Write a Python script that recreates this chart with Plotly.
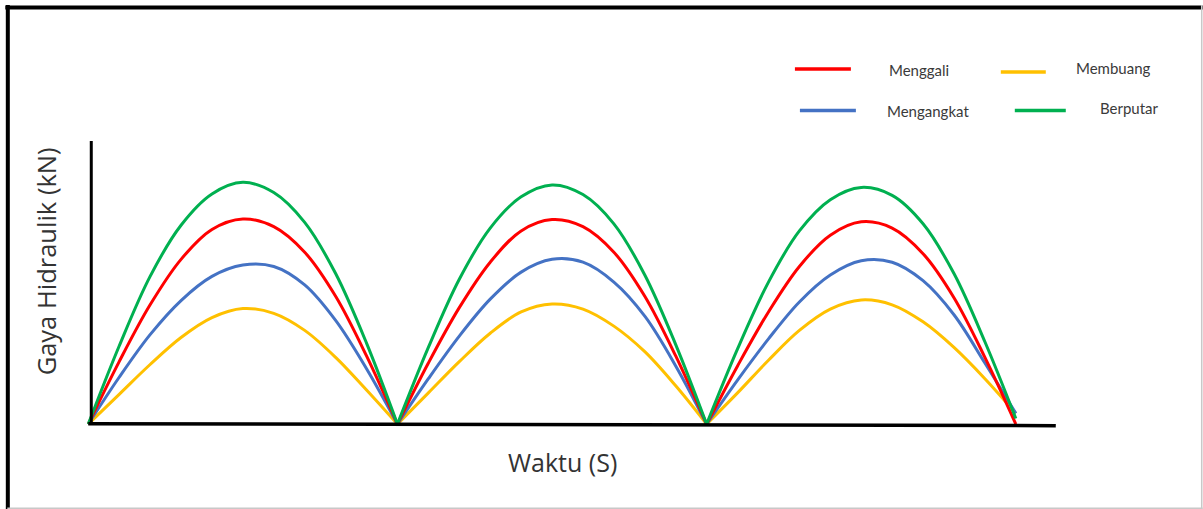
import plotly.graph_objects as go

# ---- data ----
# time in seconds, three work cycles; None separates the cycles
time_s = [0, 1, 2, 3, 4, 5, 6, 7, 8, 9, 10, None,
          10, 11, 12, 13, 14, 15, 16, 17, 18, 19, 20, None,
          20, 21, 22, 23, 24, 25, 26, 27, 28, 29, 30]

menggali = [0, 22.0, 42.0, 58.0, 68.5, 72.2, 69.5, 60.5, 45.0, 24.0, 0, None,
            0, 21.5, 41.0, 57.0, 68.0, 72.0, 69.5, 60.5, 45.0, 24.0, 0, None,
            0, 20.5, 39.5, 55.5, 66.5, 71.2, 69.0, 60.0, 44.5, 23.5, 0]

membuang = [0, 10.5, 21.0, 30.5, 37.5, 40.7, 39.0, 33.0, 23.5, 12.0, 0, None,
            0, 11.0, 22.0, 32.0, 39.5, 42.3, 40.5, 34.5, 25.5, 13.5, 0, None,
            0, 11.0, 22.5, 33.0, 40.5, 43.7, 42.0, 36.0, 27.0, 16.0, 3.8]

mengangkat = [0, 16.5, 31.5, 43.5, 52.0, 56.0, 55.5, 49.0, 36.5, 19.5, 0, None,
              0, 16.0, 31.0, 44.0, 53.5, 58.0, 57.0, 50.0, 38.0, 20.5, 0, None,
              0, 15.5, 30.0, 43.0, 52.5, 57.5, 57.0, 50.5, 38.5, 21.5, 3.8]

berputar = [0, 27.5, 52.0, 70.0, 81.0, 85.1, 81.5, 71.0, 53.0, 28.5, 0, None,
            0, 27.0, 51.0, 69.0, 80.0, 84.2, 80.8, 70.5, 52.5, 28.0, 0, None,
            0, 26.5, 50.0, 68.0, 79.0, 83.3, 80.5, 70.5, 53.0, 29.0, 2.0]

series_names = ["Menggali", "Membuang", "Mengangkat", "Berputar"]
series_colors = ["#FF0000", "#FFC000", "#4472C4", "#00B050"]
series_values = [menggali, membuang, mengangkat, berputar]

x_title = "Waktu (S)"
y_title = "Gaya Hidraulik (kN)"

# ---- layout geometry (pixels) ----
W, H = 1203, 509
X0_PIX, X30_PIX = 88, 1016          # t=0 and t=30
PX_PER_S = (X30_PIX - X0_PIX) / 30.0
X_MIN, X_MAX = -0.3, 31.3
PLOT_L = X0_PIX + X_MIN * PX_PER_S
PLOT_R = X0_PIX + X_MAX * PX_PER_S
Y_TOP_PIX, Y_BOT_PIX = 140, 424      # y=100 and y=0
Y_MIN, Y_MAX = -1.0, 100.0
PX_PER_U = (Y_BOT_PIX - Y_TOP_PIX) / 100.0
PLOT_T = Y_TOP_PIX
PLOT_B = Y_BOT_PIX - Y_MIN * PX_PER_U
PW = PLOT_R - PLOT_L
PH = PLOT_B - PLOT_T


def pxx(x):
    return (x - PLOT_L) / PW


def pxy(y):
    return (PLOT_B - y) / PH


fig = go.Figure()
draw_order = [1, 2, 0, 3]
for i in draw_order:
    fig.add_trace(go.Scatter(
        x=time_s, y=series_values[i], name=series_names[i],
        mode="lines", connectgaps=False,
        line=dict(color=series_colors[i], width=3, shape="spline", smoothing=1.0),
        showlegend=False, hoverinfo="skip",
    ))

shapes = []
# frame of the picture
shapes.append(dict(type="line", xref="paper", yref="paper",
                   x0=pxx(5), x1=pxx(1203), y0=pxy(7.5), y1=pxy(7.5),
                   line=dict(color="black", width=4)))
shapes.append(dict(type="line", xref="paper", yref="paper",
                   x0=pxx(7.5), x1=pxx(7.5), y0=pxy(5), y1=pxy(509),
                   line=dict(color="black", width=4)))
shapes.append(dict(type="line", xref="paper", yref="paper",
                   x0=pxx(1202), x1=pxx(1202), y0=pxy(5), y1=pxy(509),
                   line=dict(color="#c8c8c8", width=1.5)))
shapes.append(dict(type="line", xref="paper", yref="paper",
                   x0=pxx(7), x1=pxx(1203), y0=pxy(508), y1=pxy(508),
                   line=dict(color="#c8c8c8", width=1.5)))
# axes lines
shapes.append(dict(type="line", xref="paper", yref="paper",
                   x0=pxx(91), x1=pxx(91), y0=pxy(141), y1=pxy(424),
                   line=dict(color="black", width=3)))
shapes.append(dict(type="line", xref="paper", yref="paper",
                   x0=pxx(88), x1=pxx(1056), y0=pxy(423.5), y1=pxy(425.5),
                   line=dict(color="black", width=3.5)))

# manual legend (2 x 2 grid)
legend_items = [
    # name index, line x0, x1, y, text x, text y
    (0, 795, 851, 69, 887, 70),
    (1, 1001, 1046, 72, 1074, 68),
    (2, 800, 856, 110.5, 885, 111),
    (3, 1015, 1066, 110.5, 1098, 108),
]
annotations = []
for idx, lx0, lx1, ly, tx, ty in legend_items:
    shapes.append(dict(type="line", xref="paper", yref="paper",
                       x0=pxx(lx0), x1=pxx(lx1), y0=pxy(ly), y1=pxy(ly),
                       line=dict(color=series_colors[idx], width=3.5)))
    annotations.append(dict(xref="paper", yref="paper", x=pxx(tx), y=pxy(ty),
                            xanchor="left", yanchor="middle", showarrow=False,
                            text=series_names[idx],
                            font=dict(family="Lato", size=15, color="#3a3a3a")))

# axis titles
annotations.append(dict(xref="paper", yref="paper", x=pxx(562), y=pxy(462),
                        xanchor="center", yanchor="middle", showarrow=False,
                        text=x_title,
                        font=dict(family="Open Sans", size=25, color="#333333")))
annotations.append(dict(xref="paper", yref="paper", x=pxx(46), y=pxy(261),
                        xanchor="center", yanchor="middle", showarrow=False,
                        textangle=-90, text=y_title,
                        font=dict(family="Open Sans", size=25.5, color="#333333")))

fig.update_layout(
    width=W, height=H,
    margin=dict(l=PLOT_L, r=W - PLOT_R, t=PLOT_T, b=H - PLOT_B, pad=0),
    paper_bgcolor="white", plot_bgcolor="white",
    xaxis=dict(range=[X_MIN, X_MAX], visible=False, fixedrange=True),
    yaxis=dict(range=[Y_MIN, Y_MAX], visible=False, fixedrange=True),
    shapes=shapes, annotations=annotations, showlegend=False,
)

fig.write_html("out.html",
               config={"displayModeBar": False, "staticPlot": True},
               post_script="document.body.style.margin='0px';"
                           "document.body.style.overflow='hidden';")
